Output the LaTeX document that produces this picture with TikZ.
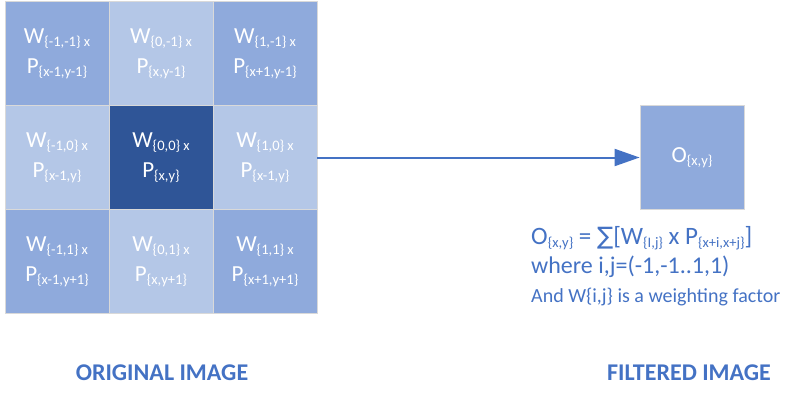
\documentclass[tikz,border=0pt]{standalone}
\usepackage{fontspec}
\setmainfont{Carlito}
\newfontfamily\symf{DejaVu Sans}
\usetikzlibrary{arrows.meta}
\definecolor{midblue}{HTML}{8FAADC}
\definecolor{lightblue}{HTML}{B4C7E7}
\definecolor{darkblue}{HTML}{2F5597}
\definecolor{accent}{HTML}{4472C4}
\definecolor{edgegray}{HTML}{D9D9D9}
\newcommand\subt[1]{\raisebox{-0.28ex}{\fontsize{14.5}{14}\selectfont #1}}
\newcommand\subf[1]{\raisebox{-0.3ex}{\fontsize{14.5}{14}\selectfont #1}}
\tikzset{
  cell/.style={draw=edgegray, line width=0.8pt, minimum width=104pt, minimum height=104pt,
    inner sep=0pt, text=white, align=center, font=\fontsize{23}{30}\selectfont},
  midcell/.style={cell, fill=midblue},
  lightcell/.style={cell, fill=lightblue},
  darkcell/.style={cell, fill=darkblue},
  caption/.style={text=accent, font=\fontsize{24}{28}\selectfont\bfseries},
  formula/.style={text=accent, anchor=base west, inner sep=0pt},
}
\begin{document}
\begin{tikzpicture}[x=1pt,y=-1pt]
\useasboundingbox (0,0) rectangle (800,400);
\node[midcell]   (c11) at (57,53.5)  {W\subt{\{-1,-1\} x}\\P\subt{\{x-1,y-1\}}};
\node[lightcell] (c12) at (161,53.5) {W\subt{\{0,-1\} x}\\P\subt{\{x,y-1\}}};
\node[midcell]   (c13) at (265,53.5) {W\subt{\{1,-1\} x}\\P\subt{\{x+1,y-1\}}};
\node[lightcell] (c21) at (57,157.5)  {W\subt{\{-1,0\} x}\\P\subt{\{x-1,y\}}};
\node[darkcell]  (c22) at (161,157.5) {W\subt{\{0,0\} x}\\P\subt{\{x,y\}}};
\node[lightcell] (c23) at (265,157.5) {W\subt{\{1,0\} x}\\P\subt{\{x-1,y\}}};
\node[midcell]   (c31) at (57,261.5)  {W\subt{\{-1,1\} x}\\P\subt{\{x-1,y+1\}}};
\node[lightcell] (c32) at (161,261.5) {W\subt{\{0,1\} x}\\P\subt{\{x,y+1\}}};
\node[midcell]   (c33) at (265,261.5) {W\subt{\{1,1\} x}\\P\subt{\{x+1,y+1\}}};
\node[midcell]   (out) at (692,157.5) {O\subt{\{x,y\}}};
\draw[accent, line width=2pt, -{Triangle[length=25pt,width=17pt]}] (c23.east) -- (out.west);
\node[formula, font=\fontsize{25}{28}\selectfont] (f1) at (531,244)
  {O\subf{\{x,y\}} = {\symf\fontsize{24}{24}\selectfont ∑}[W\subf{\{I,j\}} x P\subf{\{x+i,x+j\}}]};
\node[formula, font=\fontsize{24}{28}\selectfont] (f2) at (531,273) {where i,j=(-1,-1..1,1)};
\node[formula, font=\fontsize{20}{24}\selectfont] (f3) at (531,302) {And W\{i,j\} is a weighting factor};
\node[caption] (lab1) at (162,373) {ORIGINAL IMAGE};
\node[caption] (lab2) at (689,373) {FILTERED IMAGE};
\end{tikzpicture}
\end{document}
